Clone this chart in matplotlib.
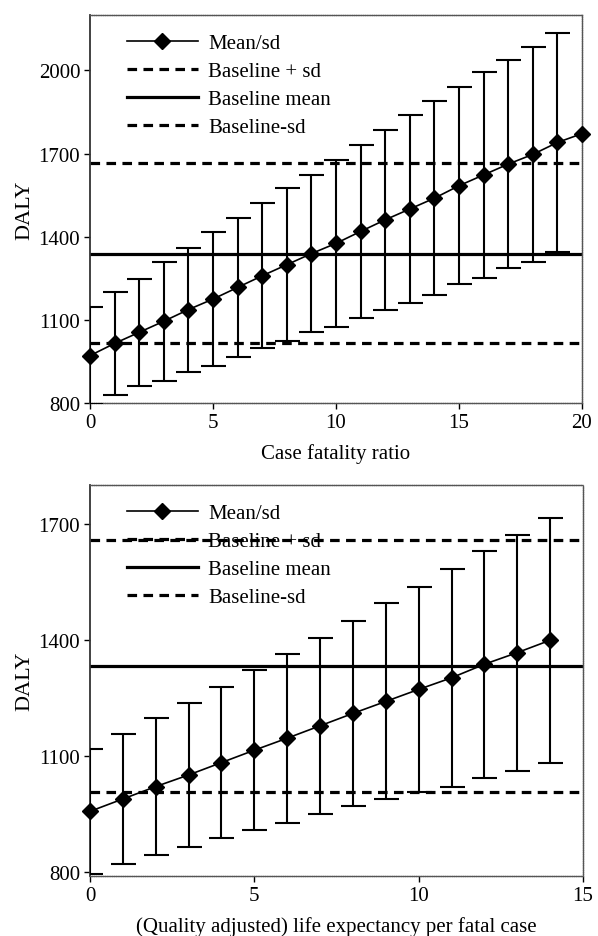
import numpy as np
import matplotlib
matplotlib.use("Agg")
import matplotlib.pyplot as plt
from matplotlib.lines import Line2D

plt.rcParams['font.family'] = ['Liberation Serif', 'DejaVu Serif']

# top panel: case fatality ratio
cfr = np.arange(0, 21)
cfr_mean = [971, 1015, 1055, 1095, 1137, 1175, 1217, 1259, 1299, 1339, 1376,
            1419, 1461, 1500, 1539, 1584, 1623, 1662, 1697, 1740, 1772]
cfr_sd = [176, 186, 194, 214, 224, 243, 250, 262, 275, 283, 300,
          312, 324, 339, 349, 356, 372, 375, 388, 395, np.nan]
cfr_base = [1665, 1337, 1015]   # +sd, mean, -sd

# bottom panel: life expectancy per fatal case
le = np.arange(0, 15)
le_mean = [957, 989, 1021, 1051, 1083, 1115, 1146, 1178, 1210, 1241,
           1272, 1302, 1337, 1367, 1399]
le_sd = [161, 168, 178, 185, 196, 206, 218, 228, 238, 253,
         265, 281, 293, 305, 316]
le_base = [1659, 1332, 1008]

FS = 15

def panel(ax, x, mean, sd, base, xlim, ylim, yticks, xticks, xlabel):
    ax.errorbar(x, mean, yerr=sd, fmt='none', ecolor='black', elinewidth=1.5,
                capsize=9, capthick=1.5, zorder=3)
    ax.plot(x, mean, color='black', lw=1.2, marker='D', ms=8, mfc='black',
            mec='black', zorder=4, clip_on=False)
    ax.axhline(base[0], color='black', lw=2.3, ls=(0, (3, 2)))
    ax.axhline(base[1], color='black', lw=2.3)
    ax.axhline(base[2], color='black', lw=2.3, ls=(0, (3, 2)))
    ax.set_xlim(*xlim)
    ax.set_ylim(*ylim)
    ax.set_xticks(xticks)
    ax.set_yticks(yticks)
    ax.tick_params(direction='out', length=4, width=1, labelsize=FS, pad=3,
                   top=False, right=False)
    for s in ['top', 'right', 'bottom']:
        ax.spines[s].set_color('#555555')
        ax.spines[s].set_linewidth(1.0)
        ax.spines[s].set_linestyle((0, (1, 0.6)))
    ax.spines['left'].set_color('#333333')
    ax.spines['left'].set_linewidth(1.3)
    ax.set_xlabel(xlabel, fontsize=FS, labelpad=8)
    ax.set_ylabel('DALY', fontsize=FS + 1, labelpad=3)

    handles = [
        Line2D([], [], color='black', lw=1.2, marker='D', ms=8),
        Line2D([], [], color='black', lw=2.3, ls=(0, (3, 2))),
        Line2D([], [], color='black', lw=2.3),
        Line2D([], [], color='black', lw=2.3, ls=(0, (3, 2))),
    ]
    labels = ['Mean/sd', 'Baseline + sd', 'Baseline mean', 'Baseline-sd']
    ax.legend(handles, labels, loc='upper left', bbox_to_anchor=(0.045, 0.99),
              frameon=False, fontsize=FS, handlelength=3.4, handletextpad=0.5,
              labelspacing=0.4, borderaxespad=0.3)


fig = plt.figure(figsize=(5.98, 9.37), dpi=100)
ax1 = fig.add_axes([90 / 598, 1 - 404 / 937, 492 / 598, 388 / 937])
ax2 = fig.add_axes([90 / 598, 1 - 877 / 937, 493 / 598, 391 / 937])

panel(ax1, cfr, cfr_mean, cfr_sd, cfr_base, (0, 20), (800, 2200),
      [800, 1100, 1400, 1700, 2000], [0, 5, 10, 15, 20], 'Case fatality ratio')
panel(ax2, le, le_mean, le_sd, le_base, (0, 15), (790, 1800),
      [800, 1100, 1400, 1700], [0, 5, 10, 15],
      '(Quality adjusted) life expectancy per fatal case')

fig.savefig('out.png', dpi=100)
